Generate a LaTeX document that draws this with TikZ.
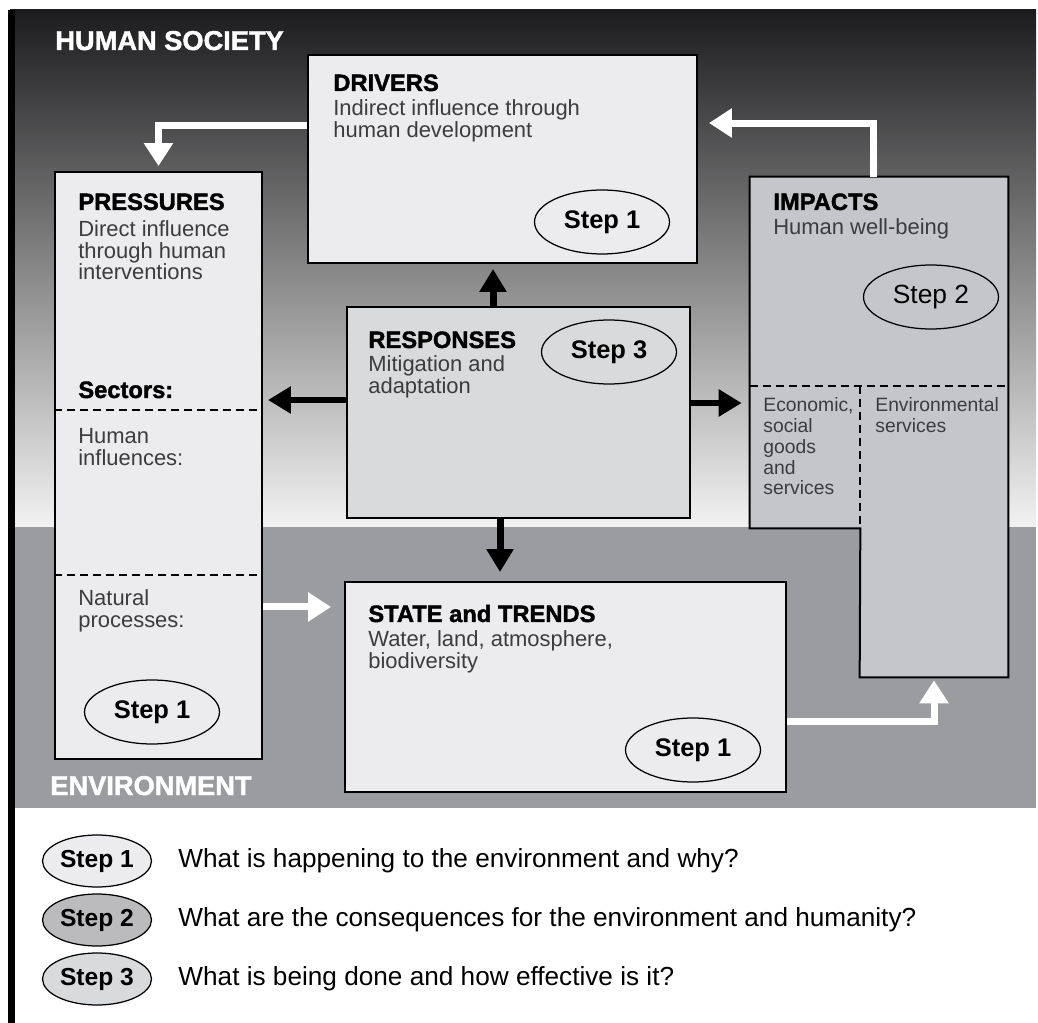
\documentclass[tikz,border=0pt]{standalone}
\usepackage{fontspec}
\setmainfont{Liberation Sans}
\newfontfamily\heavyfont[BoldFeatures={FakeBold=1.6}]{Liberation Sans}
\usepackage{xcolor}
\usepackage{tikz}
\usetikzlibrary{positioning,arrows.meta,shapes.geometric}

\definecolor{paleBox}{HTML}{ECECEF}
\definecolor{midBox}{HTML}{D9DADC}
\definecolor{darkBox}{HTML}{C5C6C9}
\definecolor{bandGray}{HTML}{9A9CA0}
\definecolor{bodyText}{HTML}{3C3C3E}
\definecolor{skyTop}{HTML}{1C1C1E}
\definecolor{skyBottom}{HTML}{F2F2F2}

\begin{document}
\begin{tikzpicture}[x=0.02cm, y=-0.02cm]
    \tikzset{
        panel/.style={draw, rectangle, line width=0.04cm, inner sep=0pt},
        oval/.style={draw, ellipse, line width=0.025cm, minimum width=2.7cm, minimum height=1.28cm, inner sep=0pt, font=\fontsize{14.5}{15}\selectfont\bfseries},
        keyoval/.style={oval, minimum width=2.18cm, minimum height=1.04cm, font=\fontsize{14}{15}\selectfont\bfseries},
        heading/.style={anchor=base west, inner sep=0pt, font=\fontsize{13.5}{14}\selectfont\heavyfont\bfseries},
        body/.style={anchor=north west, inner sep=0pt, align=left, text=bodyText, font=\fontsize{12.5}{12.4}\selectfont},
        smallbody/.style={body, font=\fontsize{11}{11.9}\selectfont},
        region/.style={anchor=base west, inner sep=0pt, text=white, font=\fontsize{15.5}{16}\selectfont\heavyfont\bfseries},
        keytext/.style={anchor=west, inner sep=0pt, font=\fontsize{14.9}{15}\selectfont},
        blackflow/.style={-{Triangle[width=0.52cm, length=0.46cm]}, line width=0.14cm, color=black},
        whiteflow/.style={-{Triangle[width=0.56cm, length=0.46cm]}, line width=0.14cm, color=white},
        divider/.style={line width=0.04cm, dash pattern=on 0.16cm off 0.1cm}
    }

    \useasboundingbox (0,0) rectangle (1038,1023);
    \shade[top color=skyTop, bottom color=skyBottom] (10,10) rectangle (1036,527);
    \fill[bandGray] (10,527) rectangle (1036,808);
    \fill[black] (8,10) rectangle (15,1023);

    \node[region] (society) at (55,50) {HUMAN SOCIETY};
    \node[region] (environment) at (50,795) {ENVIRONMENT};

    \node[panel, fill=paleBox, minimum width=7.78cm, minimum height=4.16cm] (drivers) at (502.5,159) {};
    \node[panel, fill=paleBox, minimum width=4.14cm, minimum height=11.74cm] (pressures) at (158.5,465.5) {};
    \node[panel, fill=midBox, minimum width=6.86cm, minimum height=4.22cm] (responses) at (518.5,412.5) {};
    \node[panel, fill=paleBox, minimum width=8.82cm, minimum height=4.2cm] (state) at (565.5,687) {};

    \node[rectangle, fill=darkBox, minimum width=5.16cm, minimum height=4.18cm] (impacts) at (879,281.5) {};
    \node[rectangle, fill=darkBox, minimum width=2.2cm, minimum height=2.84cm] (econ) at (805,457) {};
    \node[rectangle, fill=darkBox, minimum width=2.96cm, minimum height=5.82cm] (envserv) at (934,531.5) {};
    \draw[line width=0.04cm] (impacts.north west) -- (impacts.north east) -- (envserv.south east)
        -- (envserv.south west) -- (econ.south east) -- (econ.south west) -- cycle;
    \draw[divider] (impacts.south west) -- (impacts.south east);
    \draw[divider] (econ.north east) -- (econ.south east);

    \draw[divider] ([yshift=1.11cm]pressures.west) -- ([yshift=1.11cm]pressures.east);
    \draw[divider] ([yshift=-2.19cm]pressures.west) -- ([yshift=-2.19cm]pressures.east);

    \coordinate (drvout) at ([yshift=0.68cm]drivers.west);
    \draw[whiteflow, shorten >=0.1cm] (drvout) -| (pressures.north);
    \coordinate (impout) at ([xshift=-0.12cm]impacts.north);
    \coordinate (drvin) at ([yshift=0.72cm]drivers.east);
    \draw[whiteflow, shorten >=0.22cm] (impout) |- (drvin);
    \coordinate (natout) at ([yshift=-2.83cm]pressures.east);
    \draw[whiteflow, shorten >=0.26cm] (natout) -- (natout -| state.west);
    \coordinate (stout) at ([yshift=-0.7cm]state.east);
    \draw[whiteflow, shorten >=0.06cm] (stout) -| (envserv.south);

    \coordinate (rspup) at ([xshift=-0.51cm]responses.north);
    \draw[blackflow, shorten >=0.1cm] (rspup) -- (rspup |- drivers.south);
    \coordinate (rspleft) at ([yshift=0.25cm]responses.west);
    \draw[blackflow, shorten >=0.1cm] (rspleft) -- (rspleft -| pressures.east);
    \coordinate (rspright) at ([yshift=0.19cm]responses.east);
    \draw[blackflow, shorten >=0.16cm] (rspright) -- (rspright -| econ.west);
    \coordinate (rspdown) at ([xshift=-0.37cm]responses.south);
    \draw[blackflow, shorten >=0.18cm] (rspdown) -- (rspdown |- state.north);

    \node[heading] (driverstitle) at (333,91) {DRIVERS};
    \node[body] (driverstext) at (333,99) {Indirect influence through\\human development};
    \node[oval] (driversstep) at (602,222) {Step 1};

    \node[heading] (pressurestitle) at (78,210) {PRESSURES};
    \node[body] (pressurestext) at (78,220) {Direct influence\\through human\\interventions};
    \node[heading] (sectors) at (78,398) {Sectors:};
    \node[body] (humaninfl) at (78,428) {Human\\influences:};
    \node[body] (naturalproc) at (78,589) {Natural\\processes:};
    \node[oval] (pressuresstep) at (152,712) {Step 1};

    \node[heading] (responsestitle) at (368,348) {RESPONSES};
    \node[body] (responsestext) at (368,355) {Mitigation and\\adaptation};
    \node[oval] (responsesstep) at (609,352) {Step 3};

    \node[heading] (impactstitle) at (773,210) {IMPACTS};
    \node[body] (impactstext) at (773,218) {Human well-being};
    \node[oval, font=\fontsize{15}{16}\selectfont] (impactsstep) at (931,297) {Step 2};
    \node[smallbody] (econtext) at (763,397) {Economic,\\social\\goods\\and\\services};
    \node[smallbody] (envtext) at (875,397) {Environmental\\services};

    \node[heading] (statetitle) at (368,622) {STATE and TRENDS};
    \node[body] (statetext) at (368,630) {Water, land, atmosphere,\\biodiversity};
    \node[oval] (statestep) at (693,750) {Step 1};

    \node[keyoval, fill=paleBox] (key1) at (97,861) {Step 1};
    \node[keyoval, fill=darkBox!85!gray] (key2) at (97,920) {Step 2};
    \node[keyoval, fill=midBox] (key3) at (97,979) {Step 3};
    \node[keytext, right=0.52cm of key1] (keytext1) {What is happening to the environment and why?};
    \node[keytext, right=0.52cm of key2] (keytext2) {What are the consequences for the environment and humanity?};
    \node[keytext, right=0.52cm of key3] (keytext3) {What is being done and how effective is it?};
\end{tikzpicture}
\end{document}
